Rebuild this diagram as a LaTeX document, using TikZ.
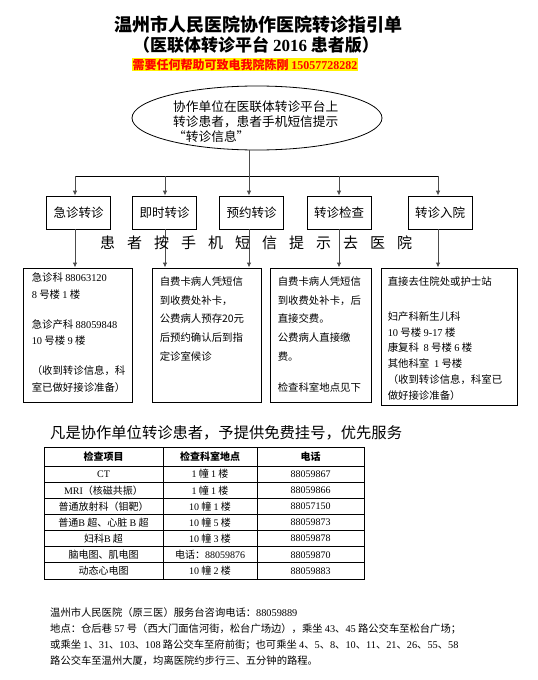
\documentclass[tikz,border=0pt]{standalone}
\usepackage{fontspec}
\setmainfont{Noto Sans CJK SC}
\newfontfamily\lat{Liberation Serif}
\newcommand\dg[1]{{\lat #1}}
\usetikzlibrary{shapes.geometric,arrows.meta}

\begin{document}
\begin{tikzpicture}[
		x=1pt, y=-1pt,
		every node/.style={inner sep=0pt},
		flow/.style={draw, line width=0.8pt, minimum width=64pt, minimum height=33pt, font=\fontsize{12.5}{15}\selectfont},
		info/.style={draw, line width=0.9pt},
		infotext/.style={anchor=north west, align=left, font=\fontsize{10.4}{#1}\selectfont},
		link/.style={draw=black!70, line width=0.9pt, -{Latex[length=5pt,width=4.5pt]}},
		cell/.style={font=\fontsize{10}{12}\selectfont},
		]
		\fill[white] (0,0) rectangle (538,680);
		\useasboundingbox (0,0) rectangle (538,680);

		\node[font=\fontsize{18}{20}\selectfont\bfseries] (title) at (258,25) {温州市人民医院协作医院转诊指引单};
		\node[font=\fontsize{17}{20}\selectfont\bfseries] (subtitle) at (256,45) {（医联体转诊平台 \dg{2016} 患者版）};
		\node[fill=yellow, text=red, inner xsep=0.5pt, inner ysep=1pt, font=\fontsize{12}{14}\selectfont\bfseries] (hotline) at (245,64.5) {需要任何帮助可致电我院陈刚 \dg{15057728282}};

		\node[ellipse, draw, line width=0.8pt, minimum width=250pt, minimum height=64pt] (msg) at (257,118) {};
		\node[anchor=north west, align=left, font=\fontsize{12.7}{15}\selectfont] (msgtext) at (173,101) {协作单位在医联体转诊平台上\\转诊患者，患者手机短信提示\\“转诊信息”};

		\coordinate (split) at (249,176);
		\coordinate (s1) at (75,176);
		\coordinate (s2) at (165,176);
		\coordinate (s4) at (339,176);
		\coordinate (s5) at (438,176);

		\node[flow] (b1) at (78.5,212.5) {急诊转诊};
		\node[flow] (b2) at (164.5,212.5) {即时转诊};
		\node[flow] (b3) at (251.5,212.5) {预约转诊};
		\node[flow] (b4) at (339,212.5) {转诊检查};
		\node[flow] (b5) at (440,212.5) {转诊入院};

		\node[info, minimum width=109pt, minimum height=134pt] (d1) at (77.5,335) {};
		\node[info, minimum width=109pt, minimum height=134pt] (d2) at (206.5,335) {};
		\node[info, minimum width=101pt, minimum height=134pt] (d3) at (320.5,335) {};
		\node[info, minimum width=136pt, minimum height=137pt] (d4) at (449,336.5) {};

		\draw[draw=black!70, line width=0.9pt] (msg.south -| split) -- (split);
		\draw[line width=0.7pt] (s1) -- (s5);
		\path (s1) edge[link] (s1 |- b1.north);
		\path (s2) edge[link] (s2 |- b2.north);
		\path (split) edge[link] (split |- b3.north);
		\path (s4) edge[link] (s4 |- b4.north);
		\path (s5) edge[link] (s5 |- b5.north);
		\path (b1.south -| s1) edge[link] (d1.north -| s1);
		\path (b2.south -| s2) edge[link] (d2.north -| s2);
		\path (b3.south -| split) edge[link] (d2.north -| split);
		\path (b4.south -| s4) edge[link] (d3.north -| s4);
		\path (b5.south -| s5) edge[link] (d4.north -| s5);

		\foreach \c [count=\k from 0] in {患,者,按,手,机,短,信,提,示,去,医,院}
			\node[font=\fontsize{15}{15}\selectfont] (hint\k) at (107.5+27*\k,243) {\c};

		\node[infotext=16.5] (d1text) at ([xshift=9pt,yshift=-5pt]d1.north west) {急诊科 \dg{88063120}\\\dg{8} 号楼 \dg{1} 楼\\[13.5pt]急诊产科 \dg{88059848}\\\dg{10} 号楼 \dg{9} 楼\\[13.5pt]（收到转诊信息，科\\室已做好接诊准备）};
		\node[infotext=18.7] (d2text) at ([xshift=8pt,yshift=-9pt]d2.north west) {自费卡病人凭短信\\到收费处补卡，\\公费病人预存20元\\后预约确认后到指\\定诊室候诊};
		\node[infotext=18.7] (d3text) at ([xshift=8pt,yshift=-9pt]d3.north west) {自费卡病人凭短信\\到收费处补卡，后\\直接交费。\\公费病人直接缴\\费。\\[12.3pt]检查科室地点见下};
		\node[infotext=15.8] (d4text) at ([xshift=7pt,yshift=-9pt]d4.north west) {直接去住院处或护士站\\[19pt]妇产科新生儿科\\\dg{10} 号楼 \dg{9-17} 楼\\康复科~ \dg{8} 号楼 \dg{6} 楼\\其他科室~ \dg{1} 号楼\\（收到转诊信息，科室已\\做好接诊准备）};

		\node[anchor=west, font=\fontsize{15.3}{18}\selectfont] (notice) at (50,433) {凡是协作单位转诊患者，予提供免费挂号，优先服务};

		\draw[line width=0.8pt] (44,447) rectangle (364,579);
		\draw[line width=0.8pt] (44,466) -- (364,466);
		\foreach \k in {1,...,6}
			\draw[line width=0.8pt] (44,466+16.14*\k) -- (364,466+16.14*\k);
		\draw[line width=0.8pt] (163,447) -- (163,579);
		\draw[line width=0.8pt] (257,447) -- (257,579);

		\node[cell, font=\fontsize{10}{12}\selectfont\bfseries] (head1) at (103.5,456.5) {检查项目};
		\node[cell, font=\fontsize{10}{12}\selectfont\bfseries] (head2) at (210,456.5) {检查科室地点};
		\node[cell, font=\fontsize{10}{12}\selectfont\bfseries] (head3) at (310.5,456.5) {电话};
		\foreach \a/\b/\c [count=\r from 0] in {
			\dg{CT}/\dg{1} 幢 \dg{1} 楼/88059867,
			\dg{MRI}（核磁共振）/\dg{1} 幢 \dg{1} 楼/88059866,
			普通放射科（钼靶）/\dg{10} 幢 \dg{1} 楼/88057150,
			普通\dg{B} 超、心脏 \dg{B} 超/\dg{10} 幢 \dg{5} 楼/88059873,
			妇科\dg{B} 超/\dg{10} 幢 \dg{3} 楼/88059878,
			脑电图、肌电图/电话：\dg{88059876}/88059870,
			动态心电图/\dg{10} 幢 \dg{2} 楼/88059883}
		{
			\node[cell] (item\r) at (103.5,474.1+16.14*\r) {\a};
			\node[cell] (room\r) at (210,474.1+16.14*\r) {\b};
			\node[cell] (tel\r) at (310.5,474.1+16.14*\r) {\dg{\c}};
		}

		\node[anchor=north west, align=left, font=\fontsize{10.3}{16}\selectfont] (footer) at (50,607) {温州市人民医院（原三医）服务台咨询电话：\dg{88059889}\\地点：仓后巷 \dg{57} 号（西大门面信河街，松台广场边），乘坐 \dg{43}、\dg{45} 路公交车至松台广场；\\或乘坐 \dg{1}、\dg{31}、\dg{103}、\dg{108} 路公交车至府前街；也可乘坐 \dg{4}、\dg{5}、\dg{8}、\dg{10}、\dg{11}、\dg{21}、\dg{26}、\dg{55}、\dg{58}\\路公交车至温州大厦，均离医院约步行三、五分钟的路程。};
	\end{tikzpicture}
\end{document}
